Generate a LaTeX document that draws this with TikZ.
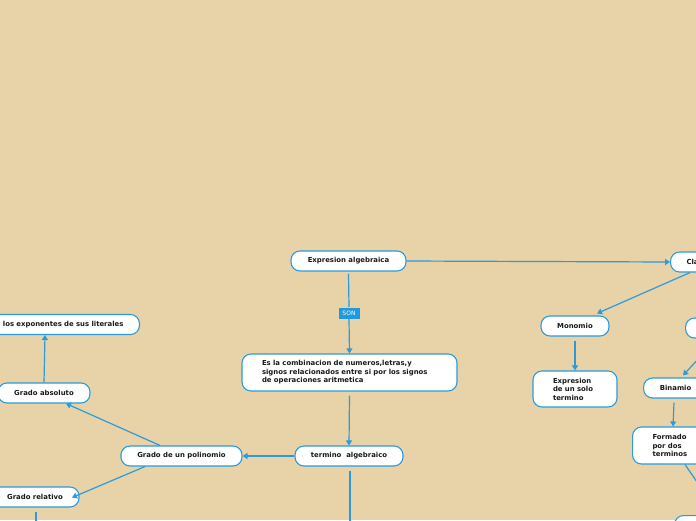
\documentclass[tikz,border=0pt]{standalone}
\usepackage{fontspec}
\setmainfont{DejaVu Sans}
\usetikzlibrary{arrows.meta,calc}
\definecolor{bg}{HTML}{E8D3A8}
\definecolor{bl}{HTML}{2B9BDB}
\definecolor{sonbl}{HTML}{1E9AE0}
\begin{document}
\begin{tikzpicture}[x=1pt,y=-1pt,
  box/.style={draw=bl, fill=white, line width=1.1pt, rounded corners=9pt,
    minimum height=20pt, inner ysep=2pt, font=\fontsize{6.9}{8.5}\selectfont\bfseries, text=black!90},
  con/.style={draw=bl, line width=1.2pt},
  arr/.style={con, -{Triangle[width=6pt,length=5pt]}},
  sonlab/.style={fill=sonbl, text=white, font=\fontsize{6}{7}\selectfont, inner sep=0pt,
    minimum width=21pt, minimum height=11pt}
]
\fill[bg] (0,0) rectangle (696,520);
\useasboundingbox (0,0) rectangle (696,520);

% nodes
\node[box, minimum width=115pt] (expr) at (348.5,261) {Expresion algebraica};
\node[box, anchor=west, minimum width=90pt, align=left, text width=60pt, inner xsep=16pt] (clas) at (670,262) {Clasificacion};
\node[box, text width=175pt, align=left, inner xsep=20pt, minimum height=37pt] (def) at (349.5,372.5)
  {Es la combinacion de numeros,letras,y\\signos relacionados entre si por los signos\\de operaciones aritmetica};
\node[box, minimum width=108pt] (term) at (349,456) {termino\ \ algebraico};
\node[box, minimum width=121pt] (gpol) at (181.5,456) {Grado de un polinomio};
\node[box, minimum width=92pt] (gabs) at (44,393) {Grado absoluto};
\node[box, anchor=east, text width=180pt, align=right, inner xsep=16pt] (lexp) at (140,324.5) {los exponentes de sus literales};
\node[box, minimum width=88pt] (grel) at (35,497) {Grado relativo};
\node[box, minimum width=68pt] (mono) at (575,326) {Monomio};
\node[box, text width=44pt, align=left, inner xsep=20pt, minimum height=36pt] (unsolo) at (575,389)
  {Expresion\\de un solo\\termino};
\node[box, anchor=west, minimum width=60pt] (hid) at (685,328) {};
\node[box, anchor=west, minimum width=64pt] (bin) at (643,388) {Binamio};
\node[box, anchor=west, text width=38pt, align=left, inner xsep=20pt, minimum height=37pt] (form) at (632,445.5)
  {Formado\\por dos\\terminos};
\node[box, anchor=north west, minimum width=60pt] (bot) at (674,515) {};

% free ends
\coordinate (termend) at (350,530);
\coordinate (grelend) at (36,530);
\coordinate (formend) at (704,492);

% connectors
\draw[arr] (expr.east) -- (clas.west);
\draw[con] ($(expr.south)+(0,2)$) -- (349,307) node[sonlab, anchor=north] (son) {SON};
\draw[arr] (son.south) -- (def.north);
\draw[arr] ($(def.south)+(0,4)$) -- (term.north);
\draw[arr] (term.west) -- (gpol.east);
\draw[con] ($(term.south)+(1,4)$) -- (termend);
\draw[arr] ($(gpol.north)+(-21.5,0)$) -- ($(gabs.south)+(22,0)$);
\draw[arr] (gabs.north) -- ($(lexp.south east)+(-95,0)$);
\draw[arr] ($(gpol.south)+(-36.5,0)$) -- ($(grel.south)+(0,-10)+(37,0)$);
\draw[con] ($(grel.south)+(1,4)$) -- (grelend);
\draw[arr] ($(clas.south west)+(20,0)$) -- ($(mono.north)+(22,-2)$);
\draw[arr] ($(mono.south)+(0,4)$) -- (unsolo.north);
\draw[arr] (701,356) -- ($(bin.north west)+(40,-2)$);
\draw[arr] ($(bin.south west)+(31,4)$) -- ($(form.north west)+(41,0)$);
\draw[con] ($(form.south west)+(53,0)$) -- (formend);
\end{tikzpicture}
\end{document}
